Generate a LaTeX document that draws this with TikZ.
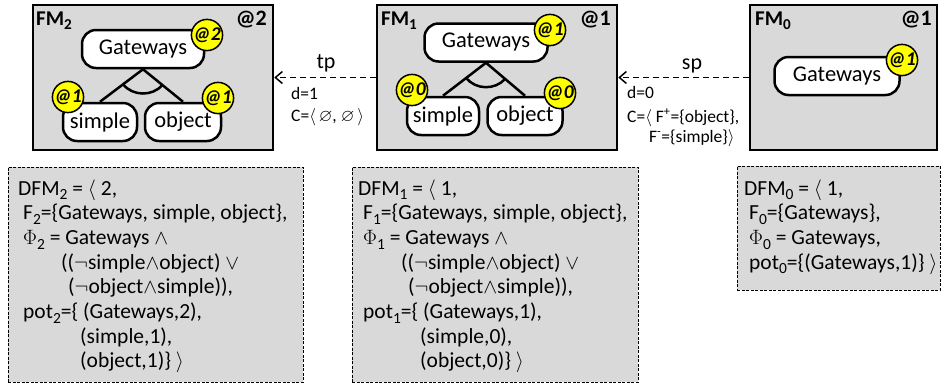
\documentclass[tikz,border=0pt]{standalone}
\usepackage{fontspec}
\setmainfont{Carlito}
\usepackage{amssymb}
\usepackage{graphicx}
\usetikzlibrary{arrows.meta,calc}
\newcommand\lsub[1]{\raisebox{-0.45ex}{\scalebox{0.72}{#1}}}
\definecolor{boxgray}{HTML}{D9D9D9}
\definecolor{badgey}{HTML}{FFFF00}
\tikzset{
 fmbox/.style={draw=black, line width=2.5pt, fill=boxgray, minimum height=145pt, inner sep=0pt},
 feat/.style={draw=black, line width=2.5pt, fill=white, rounded corners=14pt, minimum height=38pt, inner sep=0pt, font=\fontsize{22.5}{26}\selectfont},
 badge/.style={circle, draw=black, line width=1.5pt, fill=badgey, minimum size=30pt, inner sep=0pt, font=\fontsize{19.5}{20}\selectfont\bfseries\itshape},
 fmlabel/.style={anchor=base west, inner sep=0pt, font=\fontsize{21}{24}\selectfont\bfseries},
 atlabel/.style={anchor=base east, inner sep=0pt, font=\fontsize{22}{24}\selectfont\bfseries},
 dfmbox/.style={draw=black, line width=0.8pt, dash pattern=on 3pt off 1.5pt, fill=boxgray, inner sep=0pt},
 dl/.style={anchor=base west, inner sep=0pt, font=\fontsize{21.5}{24}\selectfont},
 arr/.style={line width=1.5pt, dash pattern=on 6pt off 4pt, -{Straight Barb[length=7pt,width=12pt]}},
 al/.style={anchor=base west, inner sep=0pt, font=\fontsize{17.5}{20}\selectfont},
 tl/.style={anchor=base, inner sep=0pt, font=\fontsize{22}{24}\selectfont},
 tree/.style={line width=2.5pt},
}
\begin{document}
\begin{tikzpicture}[x=1pt,y=-1pt]
\useasboundingbox (0,0) rectangle (942,384);
% FM boxes
\node[fmbox, minimum width=240pt] (fm2) at (153,77.5) {};
\node[fmbox, minimum width=240pt] (fm1) at (497,77.5) {};
\node[fmbox, minimum width=187pt] (fm0) at (843.5,77.5) {};
\node[fmlabel] (fm2t) at (36,25) {FM\lsub{2}};
\node[fmlabel] (fm1t) at (381,25) {FM\lsub{1}};
\node[fmlabel] (fm0t) at (755,25) {FM\lsub{0}};
\node[atlabel] (fm2a) at (267,25) {@2};
\node[atlabel] (fm1a) at (611,25) {@1};
\node[atlabel] (fm0a) at (932,25) {@1};
% FM2 tree
\node[feat, minimum width=122pt] (g2) at (143,49) {Gateways};
\node[feat, minimum width=74pt] (s2) at (100,122) {simple};
\node[feat, minimum width=76pt] (o2) at (183,122) {object};
\draw[tree] (g2.south) -- (s2.north);
\draw[tree] (g2.south) -- (o2.north);
\draw[tree] ($(g2.south)!25pt!(s2.north)$) to[bend right=50] ($(g2.south)!25pt!(o2.north)$);
\node[badge] (b2g) at (207,35) {@2};
\node[badge] (b2s) at (68,97) {@1};
\node[badge] (b2o) at (218,98) {@1};
% FM1 tree
\node[feat, minimum width=123pt] (g1) at (486,42.5) {Gateways};
\node[feat, minimum width=72pt] (s1) at (443,116) {simple};
\node[feat, minimum width=75pt] (o1) at (525,116) {object};
\draw[tree] (g1.south) -- (s1.north);
\draw[tree] (g1.south) -- (o1.north);
\draw[tree] ($(g1.south)!25pt!(s1.north)$) to[bend right=50] ($(g1.south)!25pt!(o1.north)$);
\node[badge] (b1g) at (550,30) {@1};
\node[badge] (b1s) at (412,90) {@0};
\node[badge] (b1o) at (560,93) {@0};
% FM0
\node[feat, minimum width=125pt] (g0) at (837,76) {Gateways};
\node[badge] (b0g) at (902,60) {@1};
% arrows
\draw[arr] (fm1.west) -- (fm2.east);
\draw[arr] (fm0.west) -- (fm1.east);
\node[tl] (tp) at (326,68) {tp};
\node[al] (tpd) at (291,99) {d=1};
\node[al] (tpc) at (291,121) {C=$\langle$\,$\varnothing$, $\varnothing$\,$\rangle$};
\node[tl] (sp) at (692,69) {sp};
\node[al] (spd) at (627,98) {d=0};
\node[al] (spc) at (627,122) {C=$\langle$ F\textsuperscript{+}=\{object\},};
\node[al] (spf) at (649,142) {F\textsuperscript{-}=\{simple\}$\rangle$};
% DFM boxes
\node[dfmbox, minimum width=295pt, minimum height=215pt] (d2) at (155.5,274.5) {};
\node[dfmbox, minimum width=286pt, minimum height=215pt] (d1) at (495,274.5) {};
\node[dfmbox, minimum width=203pt, minimum height=124pt] (d0) at (838.5,228) {};
% DFM2 text
\node[dl] (d2a) at (18,195) {DFM\lsub{2} = $\langle$ 2,};
\node[dl] (d2b) at (23,219.7) {F\lsub{2}=\{Gateways, simple, object\},};
\node[dl] (d2c) at (23,244.4) {$\Phi$\lsub{2} = Gateways $\wedge$};
\node[dl] (d2d) at (61,269.1) {(($\neg$simple$\wedge$object) $\vee$};
\node[dl] (d2e) at (68,293.8) {($\neg$object$\wedge$simple)),};
\node[dl] (d2f) at (23,318.5) {pot\lsub{2}=\{ (Gateways,2),};
\node[dl] (d2g) at (80,343.2) {(simple,1),};
\node[dl] (d2h) at (80,367.9) {(object,1)\} $\rangle$};
% DFM1 text
\node[dl] (d1a) at (358,195) {DFM\lsub{1} = $\langle$ 1,};
\node[dl] (d1b) at (363,219.7) {F\lsub{1}=\{Gateways, simple, object\},};
\node[dl] (d1c) at (363,244.4) {$\Phi$\lsub{1} = Gateways $\wedge$};
\node[dl] (d1d) at (401,269.1) {(($\neg$simple$\wedge$object) $\vee$};
\node[dl] (d1e) at (408,293.8) {($\neg$object$\wedge$simple)),};
\node[dl] (d1f) at (363,318.5) {pot\lsub{1}=\{ (Gateways,1),};
\node[dl] (d1g) at (420,343.2) {(simple,0),};
\node[dl] (d1h) at (420,367.9) {(object,0)\} $\rangle$};
% DFM0 text
\node[dl] (d0a) at (744,195) {DFM\lsub{0} = $\langle$ 1,};
\node[dl] (d0b) at (749,219.7) {F\lsub{0}=\{Gateways\},};
\node[dl] (d0c) at (749,244.4) {$\Phi$\lsub{0} = Gateways,};
\node[dl] (d0d) at (749,269.1) {pot\lsub{0}=\{(Gateways,1)\} $\rangle$};
\end{tikzpicture}
\end{document}
